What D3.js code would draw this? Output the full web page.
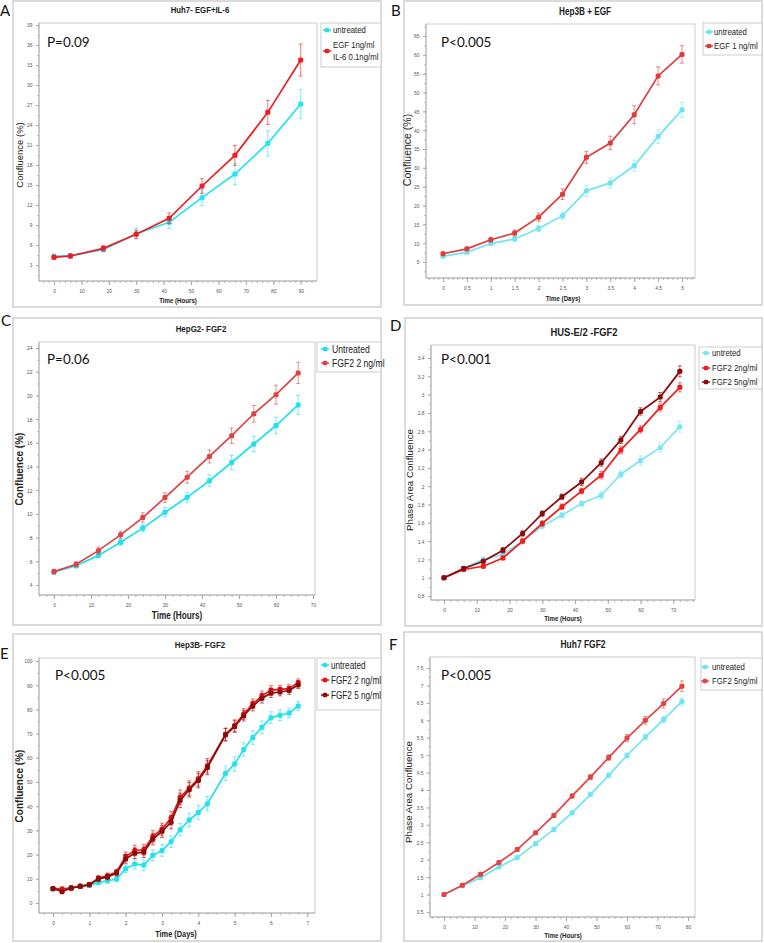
<!DOCTYPE html>
<html><head><meta charset="utf-8">
<script src="https://cdn.jsdelivr.net/npm/d3@7"></script>
<style>
html,body{margin:0;padding:0;background:#fff;}
svg{display:block;}
</style></head><body>
<svg id="fig" width="764" height="943"></svg>
<script>
// ================= DATA =================
// Panel A: Huh7- EGF+IL-6
const aHours = [0,6,18,30,42,54,66,78,90];
const aUntreated = [4.3,4.4,5.3,7.7,9.4,13.1,16.65,21.25,27.15];
const aUntreatedErr = [0.3,0.3,0.3,0.8,0.9,1.2,1.6,1.9,2.2];
const aEgfIl6 = [4.15,4.35,5.5,7.6,10.0,14.85,19.45,25.9,33.75];
const aEgfIl6Err = [0.3,0.3,0.4,0.6,0.8,1.1,1.5,1.8,2.4];
const aXTicks = [0,10,20,30,40,50,60,70,80,90];
const aYTicks = [3,6,9,12,15,18,21,24,27,30,33,36,39];

// Panel B: Hep3B + EGF
const bDays = [0,0.5,1,1.5,2,2.5,3,3.5,4,4.5,5];
const bUntreated = [6.5,7.6,9.9,11.1,13.9,17.3,23.9,26.0,30.55,38.3,45.4];
const bUntreatedErr = [0.3,0.4,0.5,0.6,0.8,1.0,1.5,1.4,1.5,1.8,2.0];
const bEgf = [7.2,8.5,10.9,12.7,16.9,23.0,32.8,36.6,44.1,54.4,60.1];
const bEgfErr = [0.4,0.4,0.6,0.8,1.1,1.4,1.6,1.8,2.4,2.4,2.3];
const bXTicks = [0,0.5,1,1.5,2,2.5,3,3.5,4,4.5,5];
const bYTicks = [5,10,15,20,25,30,35,40,45,50,55,60,65];

// Panel C: HepG2- FGF2
const cHours = [0,6,12,18,24,30,36,42,48,54,60,66];
const cUntreated = [5.1,5.63,6.5,7.6,8.8,10.14,11.4,12.8,14.34,15.9,17.46,19.2];
const cUntreatedErr = [0.2,0.2,0.2,0.25,0.3,0.4,0.45,0.5,0.6,0.65,0.7,0.8];
const cFgf2 = [5.13,5.75,6.9,8.23,9.69,11.38,13.1,14.85,16.6,18.45,20.06,21.9];
const cFgf2Err = [0.2,0.2,0.3,0.3,0.4,0.4,0.5,0.55,0.65,0.7,0.8,0.9];
const cXTicks = [0,10,20,30,40,50,60,70];
const cYTicks = [4,6,8,10,12,14,16,18,20,22,24];

// Panel D: HUS-E/2 -FGF2
const dHours = [0,6,12,18,24,30,36,42,48,54,60,66,72];
const dUntreted = [1.0,1.107,1.198,1.256,1.40,1.563,1.683,1.81,1.90,2.13,2.28,2.42,2.65];
const dUntretedErr = [0.01,0.02,0.02,0.02,0.02,0.02,0.03,0.03,0.04,0.04,0.05,0.05,0.06];
const dFgf2ng = [1.0,1.09,1.125,1.216,1.40,1.592,1.775,1.946,2.12,2.396,2.62,2.86,3.08];
const dFgf2ngErr = [0.01,0.02,0.02,0.02,0.03,0.03,0.03,0.03,0.04,0.04,0.04,0.04,0.05];
const dFgf5ng = [1.0,1.10,1.18,1.30,1.483,1.70,1.884,2.045,2.257,2.505,2.816,2.973,3.254];
const dFgf5ngErr = [0.01,0.02,0.02,0.03,0.03,0.03,0.03,0.04,0.04,0.04,0.04,0.05,0.06];
const dXTicks = [0,10,20,30,40,50,60,70];
const dYTicks = [0.8,1,1.2,1.4,1.6,1.8,2,2.2,2.4,2.6,2.8,3,3.2,3.4];

// Panel E: Hep3B- FGF2
const eDays = [0,0.25,0.5,0.75,1,1.25,1.5,1.75,2,2.25,2.5,2.75,3,3.25,3.5,3.75,4,4.25,4.75,5,5.25,5.5,5.75,6,6.25,6.5,6.75];
const eUntreated = [5.8,5.5,6.2,6.9,7.2,8.5,9.2,9.9,14.2,16.1,15.7,19.7,21.7,25.3,30.3,34.3,37.4,41.0,53.6,57.4,63.4,68.4,72.6,76.6,77.6,78.5,81.4];
const eUntreatedErr = [0.6,0.7,0.7,0.8,0.8,1.0,1.0,1.1,1.6,2.0,2.2,2.2,2.4,2.4,2.6,2.8,3.0,3.0,3.0,3.0,2.8,2.8,2.6,2.4,2.2,2.0,1.8];
const eFgf2 = [5.9,5.8,6.2,6.9,7.6,10.3,11.3,12.8,19.3,21.7,22.0,27.5,30.5,35.1,43.7,47.5,51.3,56.7,69.7,73.3,78.1,82.3,85.6,88.0,88.3,88.6,91.1];
const eFgf2Err = [0.7,0.8,0.8,0.8,0.9,1.0,1.1,1.2,1.8,2.2,2.2,2.4,2.5,2.8,3.0,3.0,3.0,3.0,2.6,2.4,2.2,2.0,2.0,1.8,1.6,1.6,1.5];
const eFgf5 = [6.0,4.7,6.2,6.9,7.6,9.9,10.7,12.4,18.2,20.6,21.0,26.4,29.6,33.4,42.4,46.8,50.6,56.0,69.5,72.9,77.4,81.4,84.6,86.7,87.2,87.8,90.1];
const eFgf5Err = [0.7,0.8,0.8,0.8,0.9,1.0,1.1,1.2,1.8,2.2,2.2,2.4,2.5,2.8,3.0,3.0,3.0,3.0,2.6,2.4,2.2,2.0,2.0,1.8,1.6,1.6,1.5];
const eXTicks = [0,1,2,3,4,5,6,7];
const eYTicks = [0,10,20,30,40,50,60,70,80,90,100];

// Panel F: Huh7 FGF2
const fHours = [0,6,12,18,24,30,36,42,48,54,60,66,72,78];
const fUntreated = [1.0,1.25,1.48,1.79,2.06,2.46,2.87,3.35,3.87,4.42,4.99,5.52,6.02,6.54];
const fUntreatedErr = [0.02,0.02,0.03,0.03,0.03,0.04,0.04,0.05,0.05,0.06,0.07,0.08,0.09,0.11];
const fFgf5 = [1.0,1.27,1.58,1.92,2.29,2.77,3.27,3.83,4.37,4.93,5.49,6.0,6.48,6.98];
const fFgf5Err = [0.02,0.02,0.04,0.04,0.05,0.05,0.06,0.06,0.07,0.08,0.1,0.11,0.13,0.15];
const fXTicks = [0,10,20,30,40,50,60,70,80];
const fYTicks = [0.5,1,1.5,2,2.5,3,3.5,4,4.5,5,5.5,6,6.5,7,7.5];

// ================= FONTS =================
function fontAvailable(name){
  const c=document.createElement('canvas').getContext('2d');
  const s='abcdefghijklmnopqrstuvwxyz0123456789ABCDEFG';
  c.font='20px monospace'; const w0=c.measureText(s).width;
  c.font="20px '"+name+"', monospace"; const w1=c.measureText(s).width;
  return Math.abs(w0-w1)>0.5;
}
const HAS_NARROW = fontAvailable('Liberation Sans Narrow');
const NARROW = HAS_NARROW ? "'Liberation Sans Narrow', sans-serif" : "'Liberation Sans', Arial, sans-serif";
const SQ = HAS_NARROW ? 1 : 0.82;
const REG = "'Liberation Sans', Arial, sans-serif";
const CAL = "Lato, 'Open Sans', sans-serif";

const svg = d3.select('#fig');

function txt(g, x, y, s, o){
  o = o||{};
  const t = g.append('text').text(s)
    .attr('font-family', o.narrow ? NARROW : (o.family||REG))
    .attr('font-size', o.size||8)
    .attr('font-weight', o.bold?'bold':'normal')
    .attr('text-anchor', o.anchor||'start')
    .attr('fill', o.color||'#222');
  let tr = 'translate('+x+','+y+')';
  if (o.rotate) tr += ' rotate('+o.rotate+')';
  if (o.narrow && SQ!==1) tr += ' scale('+SQ+',1)';
  t.attr('transform', tr);
  return t;
}

// ================= PANELS (layout) =================
const panels = [
 {letter:'A', letterPos:[0,16], frame:[13,1,381,307],
  title:'Huh7- EGF+IL-6', titlePos:[200,13], titleSize:9.5,
  plot:[39,23,317,281], xDomain:[0,90], xRange:[54,300.7], yDomain:[3,39], yRange:[265,25],
  xTicks:aXTicks, yTicks:aYTicks, xMinor:2, yMinor:1.5,
  xLabel:'Time (Hours)', xLabelPos:[178,303], xLabelSize:7.5,
  yLabel:'Confluence (%)', yLabelPos:[23,155], yLabelSize:9.5, yLabelBold:false,
  pText:'P=0.09', pPos:[47,47],
  x:aHours,
  series:[{v:aUntreated,e:aUntreatedErr,c:'#22e4f2'},{v:aEgfIl6,e:aEgfIl6Err,c:'#ee1c24'}],
  legend:{box:[321,23,381,67], tx:333, mx:327, size:9.5,
    items:[{lines:['untreated'], ys:[33], my:30, c:'#22e4f2'},
           {lines:['EGF 1ng/ml','IL-6 0.1ng/ml'], ys:[48,60], my:51, c:'#ee1c24'}]}
 },
 {letter:'B', letterPos:[391,16], frame:[404,1,762,305],
  title:'Hep3B + EGF', titlePos:[585,15], titleSize:10,
  plot:[426,24,695,278], xDomain:[0,5], xRange:[443,682], yDomain:[5,65], yRange:[262,36],
  xTicks:bXTicks, yTicks:bYTicks, xMinor:0.1, yMinor:2.5,
  xLabel:'Time (Days)', xLabelPos:[563,301], xLabelSize:7.5,
  yLabel:'Confluence (%)', yLabelPos:[411,150], yLabelSize:10.5, yLabelBold:false,
  pText:'P<0.005', pPos:[441,47],
  x:bDays,
  series:[{v:bUntreated,e:bUntreatedErr,c:'#6ee6f2'},{v:bEgf,e:bEgfErr,c:'#e03a3a'}],
  legend:{box:[703,23,762,55], tx:714, mx:709, size:9.5,
    items:[{lines:['untreated'], ys:[35], my:32, c:'#6ee6f2'},
           {lines:['EGF 1 ng/ml'], ys:[49], my:46, c:'#e03a3a'}]}
 },
 {letter:'C', letterPos:[1,326], frame:[13,318,381,625],
  title:'HepG2- FGF2', titlePos:[201,332], titleSize:9.7,
  plot:[39,342,315,595], xDomain:[0,70], xRange:[54,313], yDomain:[4,24], yRange:[585,348],
  xTicks:cXTicks, yTicks:cYTicks, xMinor:2, yMinor:1,
  xLabel:'Time (Hours)', xLabelPos:[177,619], xLabelSize:10,
  yLabel:'Confluence (%)', yLabelPos:[23,469], yLabelSize:10, yLabelBold:true,
  pText:'P=0.06', pPos:[47,364],
  x:cHours,
  series:[{v:cUntreated,e:cUntreatedErr,c:'#1fe0f0'},{v:cFgf2,e:cFgf2Err,c:'#dc4444'}],
  legend:{box:[317,342,381,372], tx:332, mx:325, size:10.5,
    items:[{lines:['Untreated'], ys:[353], my:349, c:'#1fe0f0'},
           {lines:['FGF2 2 ng/ml'], ys:[367], my:363, c:'#dc4444'}]}
 },
 {letter:'D', letterPos:[390,331], frame:[405,318,762,626],
  title:'HUS-E/2 -FGF2', titlePos:[584,336], titleSize:11.5,
  plot:[431,345,695,600], xDomain:[0,70], xRange:[444,673.3], yDomain:[0.8,3.4], yRange:[596,358],
  xTicks:dXTicks, yTicks:dYTicks, xMinor:2, yMinor:0.1,
  xLabel:'Time (Hours)', xLabelPos:[563,621], xLabelSize:7.5,
  yLabel:'Phase Area Confluence', yLabelPos:[413,480], yLabelSize:9.7, yLabelBold:false,
  pText:'P<0.001', pPos:[441,364],
  x:dHours,
  series:[{v:dUntreted,e:dUntretedErr,c:'#7ce6f2'},{v:dFgf2ng,e:dFgf2ngErr,c:'#f21c1c'},{v:dFgf5ng,e:dFgf5ngErr,c:'#8c0a0a'}],
  legend:{box:[699,347,762,389], tx:712, mx:706, size:9.5,
    items:[{lines:['untreted'], ys:[356], my:353, c:'#7ce6f2'},
           {lines:['FGF2 2ng/ml'], ys:[371], my:368, c:'#f21c1c'},
           {lines:['FGF2 5ng/ml'], ys:[385], my:382, c:'#8c0a0a'}]}
 },
 {letter:'E', letterPos:[0,659], frame:[13,634,381,941],
  title:'Hep3B- FGF2', titlePos:[200,648], titleSize:9.7,
  plot:[39,658,315,913], xDomain:[0,7], xRange:[53,307.3], yDomain:[0,100], yRange:[903,661],
  xTicks:eXTicks, yTicks:eYTicks, xMinor:0.25, yMinor:5,
  xLabel:'Time (Days)', xLabelPos:[176,937], xLabelSize:9,
  yLabel:'Confluence (%)', yLabelPos:[23,786], yLabelSize:10, yLabelBold:true,
  pText:'P<0.005', pPos:[55,680],
  x:eDays,
  series:[{v:eUntreated,e:eUntreatedErr,c:'#22e2f0'},{v:eFgf2,e:eFgf2Err,c:'#e81414'},{v:eFgf5,e:eFgf5Err,c:'#8e0b0b'}],
  legend:{box:[317,658,381,710], tx:331, mx:325, size:10,
    items:[{lines:['untreated'], ys:[669], my:665, c:'#22e2f0'},
           {lines:['FGF2 2 ng/ml'], ys:[684], my:680, c:'#e81414'},
           {lines:['FGF2 5 ng/ml'], ys:[699], my:695, c:'#8e0b0b'}]}
 },
 {letter:'F', letterPos:[389,650], frame:[404,632,762,941],
  title:'Huh7 FGF2', titlePos:[583,648], titleSize:10.3,
  plot:[430,657,695,917], xDomain:[0,80], xRange:[444,688], yDomain:[0.5,7.5], yRange:[912,668],
  xTicks:fXTicks, yTicks:fYTicks, xMinor:2, yMinor:0.25,
  xLabel:'Time (Hours)', xLabelPos:[563,938], xLabelSize:7.5,
  yLabel:'Phase Area Confluence', yLabelPos:[412,792], yLabelSize:9.7, yLabelBold:false,
  pText:'P<0.005', pPos:[441,680],
  x:fHours,
  series:[{v:fUntreated,e:fUntreatedErr,c:'#6ee6f2'},{v:fFgf5,e:fFgf5Err,c:'#e44444'}],
  legend:{box:[701,658,762,690], tx:712, mx:705, size:9.5,
    items:[{lines:['untreated'], ys:[670], my:667, c:'#6ee6f2'},
           {lines:['FGF2 5ng/ml'], ys:[684], my:681, c:'#e44444'}]}
 }
];

const fmt = d3.format('~g');

panels.forEach(p => {
  const g = svg.append('g');
  const [fx0,fy0,fx1,fy1] = p.frame;
  g.append('rect').attr('x',fx0).attr('y',fy0).attr('width',fx1-fx0).attr('height',fy1-fy0)
    .attr('fill','#fff').attr('stroke','#cfcfcf').attr('stroke-width',1.5);
  txt(svg, p.letterPos[0], p.letterPos[1], p.letter, {family:CAL, size:15, color:'#111'});
  txt(g, p.titlePos[0], p.titlePos[1], p.title, {narrow:true, bold:true, size:p.titleSize, anchor:'middle', color:'#222'});

  const [px0,py0,px1,py1] = p.plot;
  const x = d3.scaleLinear().domain(p.xDomain).range(p.xRange);
  const y = d3.scaleLinear().domain(p.yDomain).range(p.yRange);

  g.append('rect').attr('x',px0).attr('y',py0).attr('width',px1-px0).attr('height',py1-py0)
    .attr('fill','#fff').attr('stroke','#cdcdcd').attr('stroke-width',1);

  // minor ticks
  const xMin = x.invert(px0), xMax = x.invert(px1);
  const xm = d3.range(Math.ceil(xMin/p.xMinor)*p.xMinor, xMax, p.xMinor);
  const gxm = g.append('g').attr('transform','translate(0,'+py1+')')
    .call(d3.axisBottom(x).tickValues(xm).tickSize(2).tickFormat(''));
  gxm.select('.domain').remove();
  gxm.selectAll('line').attr('stroke','#b8b8b8');
  const yMinV = y.invert(py1), yMaxV = y.invert(py0);
  const ym = d3.range(Math.ceil(yMinV/p.yMinor)*p.yMinor, yMaxV, p.yMinor);
  const gym = g.append('g').attr('transform','translate('+px0+',0)')
    .call(d3.axisLeft(y).tickValues(ym).tickSize(2).tickFormat(''));
  gym.select('.domain').remove();
  gym.selectAll('line').attr('stroke','#c4c4c4');

  // major axes
  const gx = g.append('g').attr('transform','translate(0,'+py1+')')
    .call(d3.axisBottom(x).tickValues(p.xTicks).tickSize(4).tickPadding(4).tickFormat(fmt));
  gx.select('.domain').attr('d','M'+px0+',0H'+px1).attr('stroke','#b0b0b0');
  gx.selectAll('line').attr('stroke','#a8a8a8');
  gx.selectAll('text').attr('font-family',NARROW).attr('font-size',6).attr('fill','#555')
    .attr('transform', SQ!==1 ? 'scale('+SQ+',1)' : null);
  const gy = g.append('g').attr('transform','translate('+px0+',0)')
    .call(d3.axisLeft(y).tickValues(p.yTicks).tickSize(3).tickPadding(5).tickFormat(fmt));
  gy.select('.domain').attr('d','M0,'+py0+'V'+py1).attr('stroke','#b0b0b0');
  gy.selectAll('line').attr('stroke','#a8a8a8');
  gy.selectAll('text').attr('font-family',NARROW).attr('font-size',6).attr('fill','#555')
    .attr('x', -6.5/SQ).attr('transform', SQ!==1 ? 'scale('+SQ+',1)' : null);

  // axis labels
  txt(g, p.xLabelPos[0], p.xLabelPos[1], p.xLabel, {narrow:true, bold:true, size:p.xLabelSize, anchor:'middle', color:'#222'});
  txt(g, p.yLabelPos[0], p.yLabelPos[1], p.yLabel, {family:REG, bold:p.yLabelBold, size:p.yLabelSize, anchor:'middle', rotate:-90, color:'#222'});

  // P value
  txt(g, p.pPos[0], p.pPos[1], p.pText, {family:CAL, size:13.5, color:'#111'});

  // series
  const line = d3.line().x((d,i)=>x(p.x[i])).y(d=>y(d));
  p.series.forEach(s => {
    const sg = g.append('g');
    sg.append('path').attr('d', line(s.v)).attr('fill','none').attr('stroke',s.c).attr('stroke-width',1.7);
    const eb = sg.append('g').attr('stroke',s.c).attr('stroke-opacity',0.6).attr('stroke-width',1);
    s.v.forEach((v,i) => {
      const cx = x(p.x[i]), yt = y(v+s.e[i]), yb = y(v-s.e[i]);
      eb.append('line').attr('x1',cx).attr('x2',cx).attr('y1',yt).attr('y2',yb);
      eb.append('line').attr('x1',cx-2).attr('x2',cx+2).attr('y1',yt).attr('y2',yt);
      eb.append('line').attr('x1',cx-2).attr('x2',cx+2).attr('y1',yb).attr('y2',yb);
    });
    sg.selectAll('rect.m').data(s.v).enter().append('rect').attr('class','m')
      .attr('x',(d,i)=>x(p.x[i])-2.5).attr('y',d=>y(d)-2.5).attr('width',5).attr('height',5)
      .attr('rx',1.5).attr('fill',s.c);
  });

  // legend
  const L = p.legend;
  const lg = g.append('g');
  lg.append('rect').attr('x',L.box[0]).attr('y',L.box[1]).attr('width',L.box[2]-L.box[0]).attr('height',L.box[3]-L.box[1])
    .attr('fill','#fff').attr('stroke','#cdcdcd').attr('stroke-width',1);
  L.items.forEach(it => {
    lg.append('line').attr('x1',L.mx-4).attr('x2',L.mx+4).attr('y1',it.my).attr('y2',it.my)
      .attr('stroke',it.c).attr('stroke-width',1.4);
    lg.append('rect').attr('x',L.mx-2.3).attr('y',it.my-2.3).attr('width',4.6).attr('height',4.6).attr('rx',1.5).attr('fill',it.c);
    it.lines.forEach((t,k) => txt(lg, L.tx, it.ys[k], t, {narrow:true, size:L.size, color:'#222'}));
  });
});
</script>
</body></html>
